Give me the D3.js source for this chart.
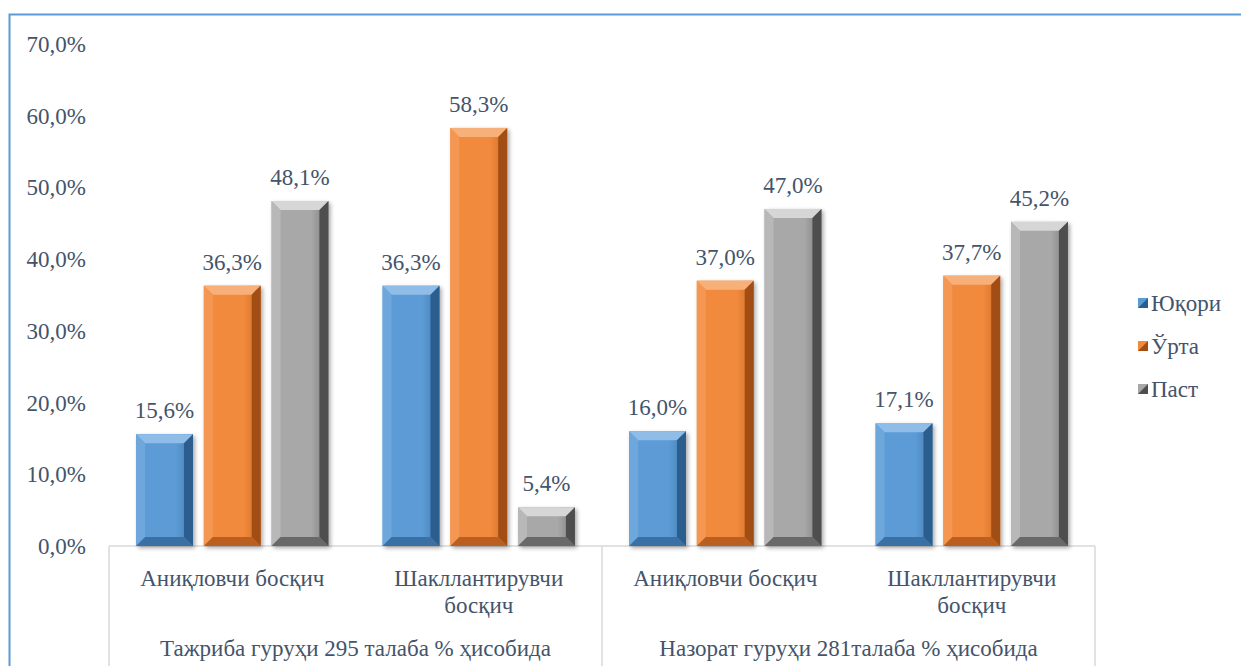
<!DOCTYPE html>
<html>
<head>
<meta charset="utf-8">
<script src="https://cdn.jsdelivr.net/npm/d3@7/dist/d3.min.js"></script>
<style>
  body { margin: 0; background: #fff; }
</style>
</head>
<body>
<svg id="chart" width="1241" height="666" font-family="'Liberation Serif', 'DejaVu Serif', 'Times New Roman', serif"></svg>
<script>
// data
var groups = ["Тажриба гуруҳи 295 талаба % ҳисобида", "Назорат гуруҳи 281талаба % ҳисобида"];
var stages = [["Аниқловчи босқич"], ["Шакллантирувчи", "босқич"]];
var series = ["Юқори", "Ўрта", "Паст"];
var highVals = [15.6, 36.3, 16.0, 17.1];
var midVals = [36.3, 58.3, 37.0, 37.7];
var lowVals = [48.1, 5.4, 47.0, 45.2];
var yTicks = [0, 10, 20, 30, 40, 50, 60, 70];

var palette = [
  { base: "#5b9bd5", light: "#8fbde8", dark: "#2c5d8f" },
  { base: "#f28a3c", light: "#f8b07a", dark: "#a24d14" },
  { base: "#a8a8a8", light: "#d6d6d6", dark: "#4e4e4e" }
];
var textCol = "#44546a";
var fs = 23;

var svg = d3.select("#chart");
var margin = { left: 109, right: 146, top: 44, bottom: 120 };
var W = 1241, H = 666;

var cats = [];
groups.forEach(function(g, gi) {
  stages.forEach(function(s, si) { cats.push({ group: gi, stage: s, key: gi + "-" + si }); });
});
var values = [highVals, midVals, lowVals];

var x = d3.scaleBand().domain(cats.map(function(d) { return d.key; }))
    .range([margin.left, W - margin.right]).paddingInner(0).paddingOuter(0);
var xs = d3.scaleBand().domain(series).range([0, x.bandwidth()]).paddingInner(0.16).paddingOuter(0.4);
var y = d3.scaleLinear().domain([0, 70]).range([H - margin.bottom, margin.top]);

var defs = svg.append("defs");
var f = defs.append("filter").attr("id", "shadow").attr("x", "-20%").attr("y", "-20%").attr("width", "150%").attr("height", "150%");
f.append("feDropShadow").attr("dx", 2).attr("dy", 2).attr("stdDeviation", 2).attr("flood-color", "#000").attr("flood-opacity", 0.35);
palette.forEach(function(p, i) {
  var g = defs.append("linearGradient").attr("id", "body" + i).attr("x1", 0).attr("x2", 1).attr("y1", 0).attr("y2", 0);
  g.append("stop").attr("offset", "0%").attr("stop-color", p.base);
  g.append("stop").attr("offset", "70%").attr("stop-color", p.base);
  g.append("stop").attr("offset", "100%").attr("stop-color", d3.interpolateRgb(p.base, p.dark)(0.5));
});

// outer frame
svg.append("rect").attr("x", 9.5).attr("y", 14.5).attr("width", 1260).attr("height", 700)
    .attr("fill", "none").attr("stroke", "#5b9bd5").attr("stroke-width", 2);

// y axis labels
svg.append("g").selectAll("text").data(yTicks).join("text")
    .attr("x", 86).attr("y", function(d) { return y(d); }).attr("dy", "0.35em")
    .attr("text-anchor", "end").attr("font-size", fs).attr("fill", textCol)
    .text(function(d) { return d3.format(".1f")(d).replace(".", ",") + "%"; });

// category axis lines
var axisCol = "#d9d9d9";
var x0 = x.range()[0], x1 = x.range()[1];
svg.append("line").attr("x1", x0).attr("x2", x1).attr("y1", y(0)).attr("y2", y(0))
    .attr("stroke", axisCol).attr("stroke-width", 1.5);
[x0, x(cats[2].key), x1].forEach(function(px) {
  svg.append("line").attr("x1", px).attr("x2", px).attr("y1", y(0)).attr("y2", H)
      .attr("stroke", axisCol).attr("stroke-width", 1.5);
});

// bars
var bars = [];
cats.forEach(function(c, ci) {
  series.forEach(function(s, si) {
    bars.push({ cat: c.key, s: s, si: si, v: values[si][ci] });
  });
});

var bevel = 9;
var bg = svg.append("g").selectAll("g").data(bars).join("g")
    .attr("transform", function(d) { return "translate(" + (x(d.cat) + xs(d.s)) + "," + y(d.v) + ")"; });

bg.each(function(d) {
  var g = d3.select(this), w = xs.bandwidth(), h = y(0) - y(d.v), p = palette[d.si];
  var b = Math.min(bevel, h / 2);
  g.append("rect").attr("width", w).attr("height", h).attr("fill", "url(#body" + d.si + ")").attr("filter", "url(#shadow)");
  // top bevel
  g.append("polygon").attr("points", [[0, 0], [w, 0], [w - b, b], [b, b]].join(" ")).attr("fill", p.light);
  // left bevel
  g.append("polygon").attr("points", [[0, 0], [b, b], [b, h - b], [0, h]].join(" "))
      .attr("fill", d3.interpolateRgb(p.base, p.light)(0.35));
  // right bevel
  g.append("polygon").attr("points", [[w, 0], [w, h], [w - b, h - b], [w - b, b]].join(" ")).attr("fill", p.dark);
  // bottom bevel
  g.append("polygon").attr("points", [[0, h], [b, h - b], [w - b, h - b], [w, h]].join(" "))
      .attr("fill", d3.interpolateRgb(p.base, p.dark)(0.7));
});

// value labels
svg.append("g").selectAll("text").data(bars).join("text")
    .attr("x", function(d) { return x(d.cat) + xs(d.s) + xs.bandwidth() / 2; })
    .attr("y", function(d) { return y(d.v) - 16; })
    .attr("text-anchor", "middle").attr("font-size", fs).attr("fill", textCol)
    .text(function(d) { return d3.format(".1f")(d.v).replace(".", ",") + "%"; });

// category labels
cats.forEach(function(c) {
  var t = svg.append("text").attr("x", x(c.key) + x.bandwidth() / 2).attr("y", 586)
      .attr("text-anchor", "middle").attr("font-size", fs).attr("fill", textCol);
  c.stage.forEach(function(line, li) {
    t.append("tspan").attr("x", x(c.key) + x.bandwidth() / 2).attr("dy", li ? 27 : 0).text(line);
  });
});
groups.forEach(function(g, gi) {
  svg.append("text").attr("x", x(cats[gi * 2].key) + x.bandwidth()).attr("y", 656)
      .attr("text-anchor", "middle").attr("font-size", fs).attr("fill", textCol).text(g);
});

// legend
var leg = svg.append("g").selectAll("g").data(series).join("g")
    .attr("transform", function(d, i) { return "translate(1138," + (303 + i * 43) + ")"; });
leg.append("rect").attr("x", 0).attr("y", -5).attr("width", 10).attr("height", 10)
    .attr("fill", function(d, i) { return palette[i].base; });
leg.append("polygon").attr("points", "10,-5 10,5 0,5").attr("fill", function(d, i) { return palette[i].dark; });
leg.append("text").attr("x", 13).attr("dy", "0.35em").attr("font-size", fs).attr("fill", textCol)
    .text(function(d) { return d; });
</script>
</body>
</html>
